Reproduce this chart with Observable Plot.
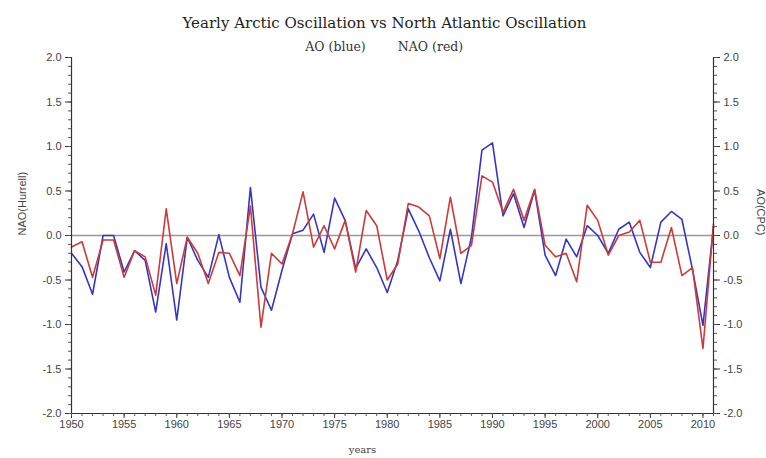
<!DOCTYPE html>
<html>
<head>
<meta charset="utf-8">
<script src="https://cdn.jsdelivr.net/npm/d3@7"></script>
<script src="https://cdn.jsdelivr.net/npm/@observablehq/plot@0.6"></script>
<style>
  html, body { margin: 0; padding: 0; background: #fff; }
  #chart { width: 766px; height: 458px; }
</style>
</head>
<body>
<div id="chart"></div>
<script>
const years = [1950,1951,1952,1953,1954,1955,1956,1957,1958,1959,
  1960,1961,1962,1963,1964,1965,1966,1967,1968,1969,
  1970,1971,1972,1973,1974,1975,1976,1977,1978,1979,
  1980,1981,1982,1983,1984,1985,1986,1987,1988,1989,
  1990,1991,1992,1993,1994,1995,1996,1997,1998,1999,
  2000,2001,2002,2003,2004,2005,2006,2007,2008,2009,
  2010,2011];
const ao = [-0.20,-0.35,-0.66,0.00,0.00,-0.41,-0.17,-0.28,-0.86,-0.09,
  -0.95,-0.02,-0.28,-0.47,0.01,-0.47,-0.75,0.54,-0.58,-0.84,
  -0.39,0.02,0.06,0.24,-0.19,0.42,0.17,-0.37,-0.15,-0.36,
  -0.64,-0.28,0.30,0.05,-0.25,-0.51,0.07,-0.54,-0.02,0.96,
  1.04,0.22,0.47,0.09,0.51,-0.22,-0.45,-0.04,-0.24,0.11,
  0.00,-0.20,0.07,0.15,-0.19,-0.36,0.15,0.27,0.18,-0.38,
  -1.01,0.10];
const nao = [-0.13,-0.07,-0.47,-0.05,-0.05,-0.47,-0.17,-0.24,-0.67,0.30,
  -0.54,-0.02,-0.20,-0.54,-0.19,-0.20,-0.45,0.33,-1.03,-0.20,
  -0.32,0.02,0.49,-0.13,0.11,-0.15,0.17,-0.41,0.28,0.11,
  -0.50,-0.32,0.36,0.32,0.22,-0.26,0.43,-0.20,-0.11,0.67,
  0.60,0.26,0.52,0.17,0.52,-0.11,-0.24,-0.20,-0.52,0.34,
  0.17,-0.22,0.00,0.04,0.17,-0.30,-0.30,0.09,-0.45,-0.36,
  -1.27,0.13];
const xTicks = [1950,1955,1960,1965,1970,1975,1980,1985,1990,1995,2000,2005,2010];
const yTicks = [-2,-1.5,-1,-0.5,0,0.5,1,1.5,2];

const title = "Yearly Arctic Oscillation vs North Atlantic Oscillation";
const subtitleAO = "AO (blue)";
const subtitleNAO = "NAO (red)";
const leftLabel = "NAO(Hurrell)";
const rightLabel = "AO(CPC)";
const xLabel = "years";

const aoData = years.map((y, i) => ({year: y, v: ao[i]}));
const naoData = years.map((y, i) => ({year: y, v: nao[i]}));
const yMinor = d3.range(-20, 21).map(d => d / 10);

const fmt = d => d.toFixed(1);
const serif = "'DejaVu Serif', 'Liberation Serif', serif";

const chart = Plot.plot({
  width: 766,
  height: 458,
  marginLeft: 71,
  marginRight: 53,
  marginTop: 57,
  marginBottom: 45,
  style: {fontFamily: "'Liberation Sans', Arial, sans-serif", fontSize: "11px", background: "#fff", color: "#444"},
  x: {domain: [1950, 2011], axis: null},
  y: {domain: [-2, 2], axis: null},
  marks: [
    Plot.ruleY([0], {stroke: "#999", strokeWidth: 1.3}),
    Plot.line(aoData, {x: "year", y: "v", stroke: "#3636c0", strokeWidth: 1.6}),
    Plot.line(naoData, {x: "year", y: "v", stroke: "#cc3b3b", strokeWidth: 1.6}),
    Plot.ruleX([1950, 2011], {stroke: "#333", strokeWidth: 1.2}),
    Plot.ruleY([-2], {stroke: "#333", strokeWidth: 1.2}),
    Plot.axisY({anchor: "left", ticks: yTicks, tickFormat: fmt, tickSize: 6, tickPadding: 4, label: null, stroke: "#333"}),
    Plot.axisY({anchor: "left", ticks: yMinor, tickFormat: () => "", tickSize: 3, label: null, stroke: "#555"}),
    Plot.axisY({anchor: "right", ticks: yTicks, tickFormat: fmt, tickSize: 6, tickPadding: 4, label: null, stroke: "#333"}),
    Plot.axisY({anchor: "right", ticks: yMinor, tickFormat: () => "", tickSize: 3, label: null, stroke: "#555"}),
    Plot.axisX({anchor: "bottom", ticks: xTicks, tickFormat: d => String(d), tickSize: 5, tickPadding: 2, label: null, stroke: "#333"}),
    Plot.axisX({anchor: "bottom", ticks: years, tickFormat: () => "", tickSize: 3, label: null, stroke: "#555"}),
    Plot.text([leftLabel], {frameAnchor: "left", dx: -49, rotate: -90, fontSize: 11, fill: "#444"}),
    Plot.text([rightLabel], {frameAnchor: "right", dx: 47, rotate: 90, fontSize: 11, fill: "#444"}),
    Plot.text([xLabel], {frameAnchor: "bottom", dx: -30, dy: 39, fontFamily: serif, fontSize: 10, fill: "#444"}),
    Plot.text([title], {frameAnchor: "top", dx: -8, dy: -40, fontFamily: serif, fontSize: 15, fill: "#222"}),
    Plot.text([subtitleAO], {frameAnchor: "top", dx: -57, dy: -15, fontFamily: serif, fontSize: 12.5, fill: "#333"}),
    Plot.text([subtitleNAO], {frameAnchor: "top", dx: 38, dy: -15, fontFamily: serif, fontSize: 12.5, fill: "#333"})
  ]
});
document.getElementById("chart").appendChild(chart);
</script>
</body>
</html>
